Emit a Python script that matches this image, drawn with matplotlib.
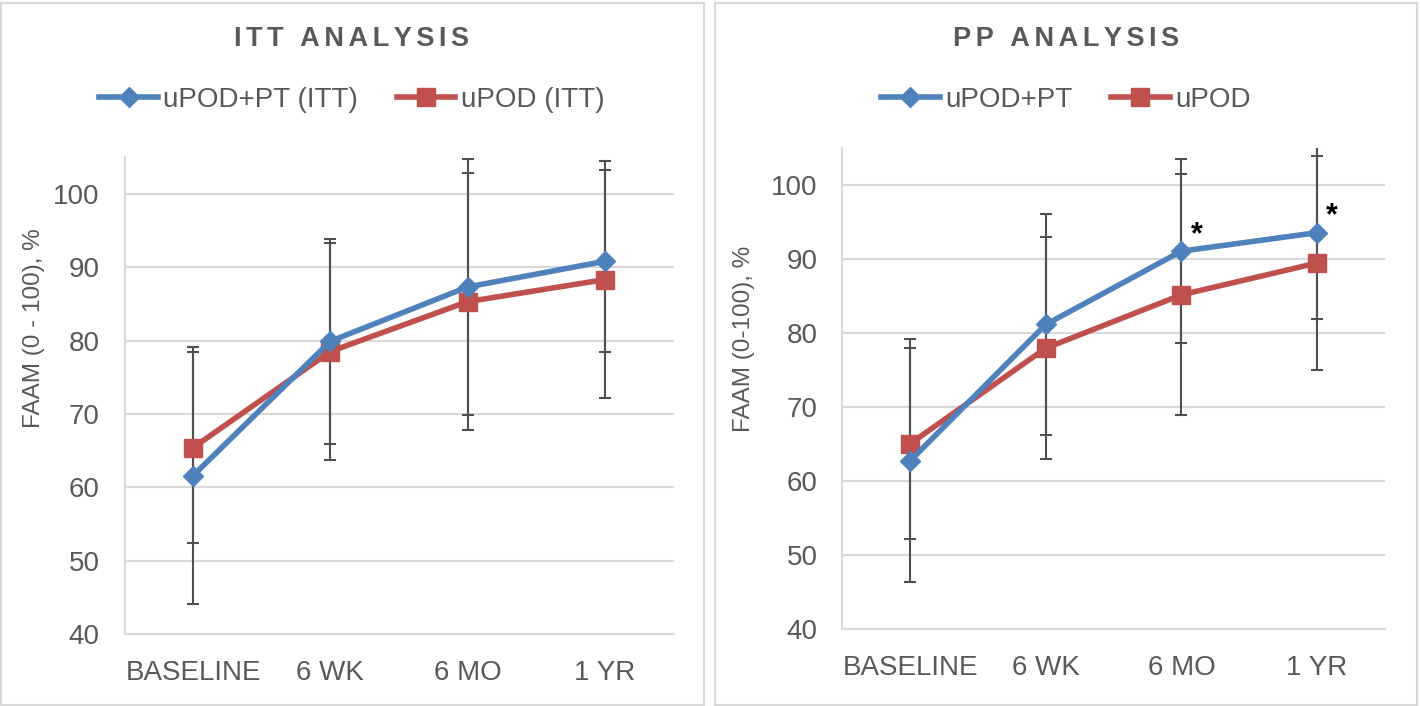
import matplotlib
matplotlib.use('Agg')
import matplotlib.pyplot as plt
from matplotlib.patches import Rectangle

# timepoints and FAAM scores (mean, SD)
timepoints = ['BASELINE', '6 WK', '6 MO', '1 YR']

itt_pt_mean = [61.6, 79.9, 87.3, 90.8]
itt_pt_sd = [17.5, 14.0, 17.4, 12.4]
itt_pod_mean = [65.4, 78.5, 85.3, 88.3]
itt_pod_sd = [13.0, 14.8, 17.5, 16.1]

pp_pt_mean = [62.7, 81.1, 91.0, 93.5]
pp_pt_sd = [16.4, 14.9, 12.4, 11.6]
pp_pod_mean = [65.0, 77.9, 85.1, 89.4]
pp_pod_sd = [12.9, 15.0, 16.3, 14.5]

# significant timepoints (PP analysis)
pp_signif = [2, 3]

BLUE = '#4F81BD'
RED = '#C0504D'
GREY_TXT = '#595959'
GRID = '#D9D9D9'
ERR = '#505050'
FONT = ['Liberation Sans', 'DejaVu Sans']

plt.rcParams['font.family'] = FONT

W, H = 1420, 706
fig = plt.figure(figsize=(W / 100, H / 100), dpi=100)


def spaced(s):
    # rough letter spacing for the titles
    return '\u200a\u200a'.join(s)


def draw_panel(rect, pt_mean, pt_sd, pod_mean, pod_sd, labels):
    ax = fig.add_axes(rect)
    x = list(range(len(timepoints)))
    ax.errorbar(x, pt_mean, yerr=pt_sd, fmt='none', ecolor=ERR,
                elinewidth=1.5, capsize=4, capthick=1.5, zorder=2)
    ax.errorbar(x, pod_mean, yerr=pod_sd, fmt='none', ecolor=ERR,
                elinewidth=1.5, capsize=4, capthick=1.5, zorder=2)
    l1, = ax.plot(x, pt_mean, color=BLUE, lw=4, marker='D', ms=10,
                  label=labels[0], zorder=4)
    l2, = ax.plot(x, pod_mean, color=RED, lw=4, marker='s', ms=13,
                  label=labels[1], zorder=3)
    ax.set_xlim(-0.5, len(timepoints) - 0.5)
    ax.set_ylim(40, 105)
    ax.set_yticks(range(40, 101, 10))
    ax.set_xticks(x)
    ax.set_xticklabels(timepoints)
    ax.tick_params(length=0, labelsize=20, labelcolor=GREY_TXT)
    ax.tick_params(axis='y', pad=18)
    ax.tick_params(axis='x', pad=19)
    ax.grid(axis='y', color=GRID, lw=1.5)
    ax.set_axisbelow(True)
    for side in ['top', 'right']:
        ax.spines[side].set_visible(False)
    for side in ['left', 'bottom']:
        ax.spines[side].set_color(GRID)
        ax.spines[side].set_linewidth(1.5)
    return ax, [l1, l2]


# panel borders
for x0, x1 in [(1, 704), (715, 1417)]:
    fig.patches.append(Rectangle((x0 / W, 1 / H), (x1 - x0) / W, 702 / H,
                                 transform=fig.transFigure, fill=False,
                                 edgecolor=GRID, lw=1.5))

ax1, h1 = draw_panel([0.0877, 0.102, 0.3866, 0.6755], itt_pt_mean, itt_pt_sd,
                     itt_pod_mean, itt_pod_sd, ['uPOD+PT (ITT)', 'uPOD (ITT)'])
ax2, h2 = draw_panel([0.5933, 0.1096, 0.3819, 0.6814], pp_pt_mean, pp_pt_sd,
                     pp_pod_mean, pp_pod_sd, ['uPOD+PT', 'uPOD'])

for i in pp_signif:
    ax2.annotate('*', xy=(i, pp_pt_mean[i]), xytext=(11, 6),
                 textcoords='offset points', ha='center', va='baseline',
                 fontsize=22, fontweight='bold', color='black')

# titles, legends, y labels placed per panel
for cx, title, handles, ylab, ylx, yly in [
        (352, 'ITT ANALYSIS', h1, 'FAAM (0 - 100), %', 34, 328),
        (1066, 'PP ANALYSIS', h2, 'FAAM (0-100), %', 744, 339)]:
    fig.text(cx / W, 1 - 39 / H, spaced(title), ha='center', va='center',
             fontsize=19.5, fontweight='bold', color=GREY_TXT)
    fig.legend(handles=handles, loc='center', ncol=2, frameon=False,
               bbox_to_anchor=(cx / W, 1 - 100 / H), fontsize=20,
               labelcolor=GREY_TXT, handlelength=2.1, handletextpad=0.2,
               columnspacing=1.4, numpoints=1)
    fig.text(ylx / W, 1 - yly / H, ylab, rotation=90, ha='center',
             va='center', fontsize=17.5, color=GREY_TXT)

fig.savefig('out.png', dpi=100)
